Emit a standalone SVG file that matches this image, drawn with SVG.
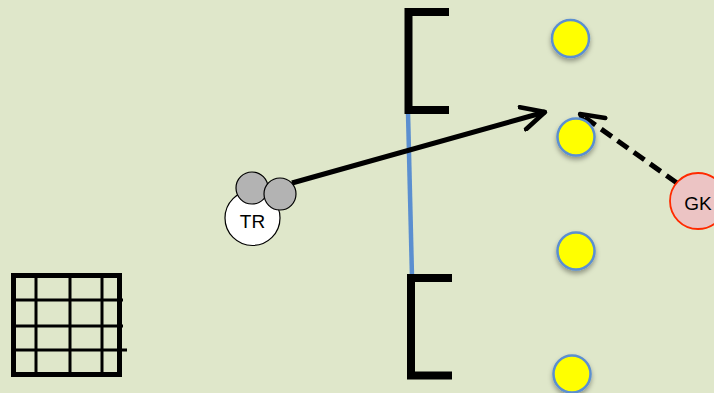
<svg xmlns="http://www.w3.org/2000/svg" width="714" height="393" viewBox="0 0 714 393">
  <style>
    .bar { stroke: #000; stroke-width: 8; fill: none; stroke-linecap: butt; }
    .ball { fill: #ffff00; stroke: #5b8fd0; stroke-width: 2.5; filter: url(#shadow); }
    .grid { stroke: #000; stroke-width: 3; fill: none; }
    .lbl { font-family: "Liberation Sans", Arial, sans-serif; font-size: 19px; fill: #000; text-anchor: middle; }
    .arrow { stroke: #000; stroke-width: 5; fill: none; }
  </style>
  <defs>
    <filter id="shadow" x="-50%" y="-50%" width="200%" height="200%">
      <feDropShadow dx="0" dy="3" stdDeviation="2.5" flood-color="#000" flood-opacity="0.35"/>
    </filter>
    <marker id="open" viewBox="0 0 12 12" refX="11" refY="6" markerWidth="5.5" markerHeight="5.5" orient="auto" markerUnits="strokeWidth">
      <path d="M1,1 L11,6 L1,11" fill="none" stroke="#000" stroke-width="2" stroke-linecap="round" stroke-linejoin="round"/>
    </marker>
  </defs>

  <rect width="714" height="393" fill="#dfe7ca"/>

  <!-- grid pitch in the lower left corner -->
  <g id="grid">
    <rect x="13.5" y="275.5" width="106" height="99" fill="none" stroke="#000" stroke-width="5"/>
    <line class="grid" x1="36" y1="276" x2="36" y2="374"/>
    <line class="grid" x1="70" y1="276" x2="70" y2="374"/>
    <line class="grid" x1="102" y1="276" x2="102" y2="374"/>
    <line class="grid" x1="14" y1="300" x2="123" y2="300"/>
    <line class="grid" x1="14" y1="326" x2="123" y2="326"/>
    <line class="grid" x1="14" y1="350" x2="127" y2="350"/>
  </g>

  <!-- goal line between the posts -->
  <g id="goal-line">
    <line x1="408" y1="112" x2="412" y2="277" stroke="#5b8fd0" stroke-width="4.5"/>
  </g>

  <!-- goal brackets -->
  <g id="post-top">
    <path class="bar" d="M449,12 H408.5 V110 H449"/>
  </g>
  <g id="post-bottom">
    <path class="bar" d="M452,278 H411 V375.5 H452"/>
  </g>

  <!-- connectors -->
  <g id="connectors">
    <line class="arrow" x1="292" y1="183" x2="545" y2="112" marker-end="url(#open)"/>
    <line class="arrow" x1="677" y1="183" x2="580" y2="114" stroke-dasharray="13,7" marker-end="url(#open)"/>
  </g>

  <!-- players -->
  <g id="tr">
    <circle cx="252.5" cy="218" r="27.5" fill="#fff" stroke="#000" stroke-width="1.2"/>
    <text class="lbl" x="252.5" y="228">TR</text>
  </g>
  <g id="ball-tr-1">
    <circle cx="252" cy="188" r="16" fill="#b3b3b3" stroke="#000" stroke-width="1.2"/>
  </g>
  <g id="ball-tr-2">
    <circle cx="280" cy="194" r="16" fill="#b3b3b3" stroke="#000" stroke-width="1.2"/>
  </g>

  <g id="gk">
    <circle cx="698" cy="201" r="28" fill="#ecc4c4" stroke="#ff2a00" stroke-width="1.8"/>
    <text class="lbl" x="698" y="210">GK</text>
  </g>

  <!-- yellow cones -->
  <g id="cone-1"><circle class="ball" cx="570.5" cy="38.5" r="18.5"/></g>
  <g id="cone-2"><circle class="ball" cx="576" cy="137" r="18.5"/></g>
  <g id="cone-3"><circle class="ball" cx="576" cy="251" r="18.5"/></g>
  <g id="cone-4"><circle class="ball" cx="572" cy="374" r="18.5"/></g>
</svg>
